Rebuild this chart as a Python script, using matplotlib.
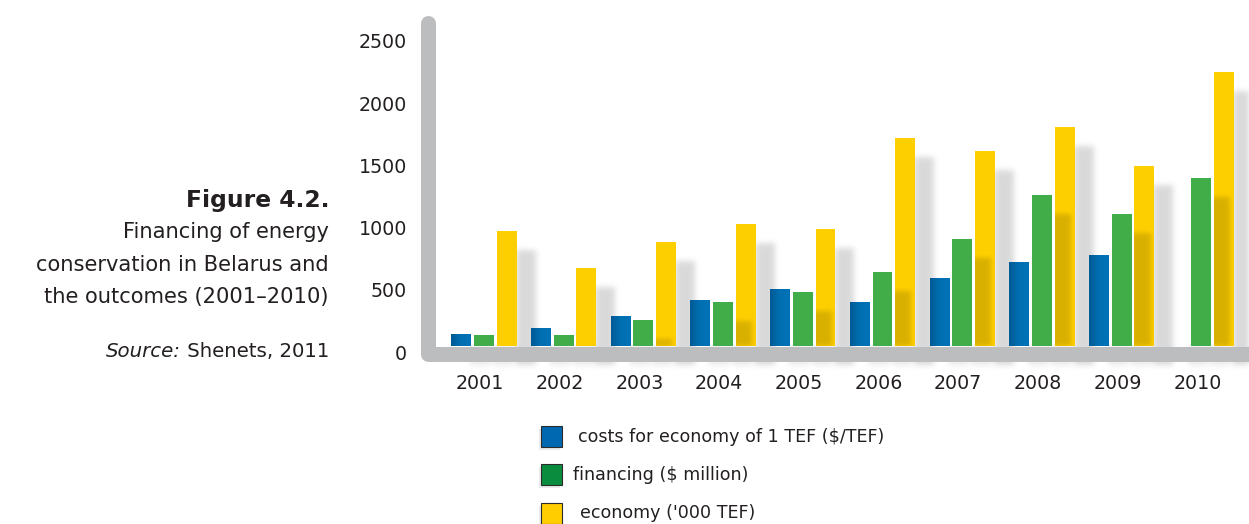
import numpy as np
import matplotlib
matplotlib.use("Agg")
import matplotlib.pyplot as plt
from matplotlib.lines import Line2D
from matplotlib.patches import Rectangle
from matplotlib.colors import LinearSegmentedColormap
import matplotlib.transforms as mtransforms

# ---------------- data ----------------
years = ["2001", "2002", "2003", "2004", "2005", "2006", "2007", "2008", "2009", "2010"]
costs = [96, 145, 241, 370, 458, 354, 547, 675, 731, 0]          # $/TEF
financing = [88, 88, 209, 354, 434, 595, 860, 1214, 1061, 1350]  # $ million
economy = [924, 627, 836, 981, 941, 1672, 1567, 1760, 1447, 2203]  # '000 TEF
yticks = [0, 500, 1000, 1500, 2000, 2500]
legend_labels = ["costs for economy of 1 TEF ($/TEF)", "financing ($ million)", "economy ('000 TEF)"]
title_text = "Figure 4.2."
desc_lines = ["Financing of energy", "conservation in Belarus and", "the outcomes (2001\u20132010)"]

# ---------------- styling ----------------
W, H, DPI = 1249, 524, 100
BLUE, GREEN, YELLOW = "#0070b2", "#41ad49", "#fecf00"
LEG_COLORS = ["#0067b1", "#0a8c3f", "#ffcd00"]
AXIS_GRAY = "#bcbdbf"
TXT = "#231f20"

fig = plt.figure(figsize=(W / DPI, H / DPI), dpi=DPI)
fig.patch.set_facecolor("white")

def fx(x):
    return x / W

def fy(y):
    return 1 - y / H

# axes placement (pixel geometry of reference)
ax_left, ax_right, ax_top, ax_bot = 420, 1249, 10, 370
base_px = 346.0
px_per_unit = 0.1244
group_px = 79.7
green0_px = 484.0

ax = fig.add_axes([fx(ax_left), fy(ax_bot), (ax_right - ax_left) / W, (ax_bot - ax_top) / H])
ax.set_facecolor("white")
xlim = ((ax_left - green0_px) / group_px, (ax_right - green0_px) / group_px)
ylim = (-(ax_bot - base_px) / px_per_unit, (base_px - ax_top) / px_per_unit)
ax.set_xlim(*xlim)
ax.set_ylim(*ylim)
for s in ax.spines.values():
    s.set_visible(False)

x = np.arange(len(years))
off, bw = 0.285, 0.25
b_blue = ax.bar(x - off, costs, bw, color=BLUE, zorder=3, linewidth=0)
b_green = ax.bar(x, financing, bw, color=GREEN, zorder=3, linewidth=0)
b_yel = ax.bar(x + off, economy, bw, color=YELLOW, zorder=3, linewidth=0)

# gradient on blue bars (darker left edge)
grad_cmap = LinearSegmentedColormap.from_list("bg", ["#005a95", "#0070b2", "#0072b5"])
grad = np.linspace(0, 1, 40)[None, :]
for p in b_blue.patches:
    if p.get_height() <= 0:
        continue
    x0, y0 = p.get_x(), p.get_y()
    im = ax.imshow(grad, cmap=grad_cmap, extent=(x0, x0 + p.get_width(), y0, y0 + p.get_height()),
                   aspect="auto", zorder=3.1, interpolation="bilinear")
    im.set_clip_path(p)
ax.set_xlim(*xlim)
ax.set_ylim(*ylim)

# ---------------- soft shadows (raster, derived from bars) ----------------
npx_w, npx_h = ax_right - ax_left, ax_bot - ax_top
xs = xlim[0] + (np.arange(npx_w) + 0.5) / npx_w * (xlim[1] - xlim[0])
ys = ylim[1] - (np.arange(npx_h) + 0.5) / npx_h * (ylim[1] - ylim[0])
XX, YY = np.meshgrid(xs, ys)
dx = 19 / group_px
dy = 19 / px_per_unit

def rect_mask(x0, x1, y0, y1):
    return ((XX >= x0) & (XX <= x1) & (YY >= y0) & (YY <= y1)).astype(float)

def blur(a, sigma):
    r = int(3 * sigma)
    k = np.exp(-0.5 * (np.arange(-r, r + 1) / sigma) ** 2)
    k /= k.sum()
    a = np.apply_along_axis(lambda v: np.convolve(v, k, mode="same"), 1, a)
    a = np.apply_along_axis(lambda v: np.convolve(v, k, mode="same"), 0, a)
    return a

maskA = np.zeros_like(XX)
for p in b_yel.patches:
    x0 = p.get_x()
    maskA = np.maximum(maskA, rect_mask(x0 + dx, x0 + bw + dx, -dy, p.get_height() - dy))
for cont in (b_blue, b_green):
    for p in cont.patches:
        x0 = p.get_x()
        maskA = np.maximum(maskA, 0.6 * rect_mask(x0 + dx, x0 + bw + dx, -dy, 0))
maskA = blur(maskA, 3.0)
shadowA = np.zeros(XX.shape + (4,))
shadowA[..., 3] = 0.15 * maskA
ax.imshow(shadowA, extent=(xlim[0], xlim[1], ylim[0], ylim[1]), aspect="auto", zorder=2,
          interpolation="bilinear")

maskB = np.zeros_like(XX)
for p in b_green.patches:
    x0 = p.get_x()
    maskB = np.maximum(maskB, rect_mask(x0 + dx, x0 + bw + dx, 0, p.get_height() - dy))
maskB = blur(maskB, 2.5)
yel_mask = np.zeros_like(XX)
for p in b_yel.patches:
    x0 = p.get_x()
    yel_mask = np.maximum(yel_mask, rect_mask(x0, x0 + bw, 0, p.get_height()))
shadowB = np.zeros(XX.shape + (4,))
shadowB[..., 3] = 0.15 * maskB * yel_mask
ax.imshow(shadowB, extent=(xlim[0], xlim[1], ylim[0], ylim[1]), aspect="auto", zorder=4,
          interpolation="bilinear")
ax.set_xlim(*xlim)
ax.set_ylim(*ylim)

# ---------------- ticks ----------------
ax.set_yticks(yticks)
ax.set_yticklabels([str(v) for v in yticks])
ax.set_xticks(x - 0.05)
ax.set_xticklabels(years)
ax.tick_params(axis="both", length=0, labelsize=13.7, labelcolor=TXT)
ax.tick_params(axis="y", pad=9.4)
ax.tick_params(axis="x", pad=3.0)
shift = mtransforms.ScaledTranslation(0, -6 / DPI, fig.dpi_scale_trans)
for lab in ax.get_yticklabels():
    lab.set_transform(lab.get_transform() + shift)

# ---------------- L-shaped axis line ----------------
lw_pt = 15 * 72 / DPI
axis_line = Line2D([fx(427.5), fx(427.5), fx(1300)], [fy(22.5), fy(353.5), fy(353.5)],
                   transform=fig.transFigure, color=AXIS_GRAY, linewidth=lw_pt,
                   solid_capstyle="round", solid_joinstyle="round", zorder=5)
fig.add_artist(axis_line)

# ---------------- left caption ----------------
fig.text(fx(329), fy(207), title_text, ha="right", va="baseline", fontsize=16.8,
         fontweight="bold", color=TXT, family="DejaVu Sans")
for i, line in enumerate(desc_lines):
    fig.text(fx(329), fy(238 + i * 32.6), line, ha="right", va="baseline", fontsize=15.1,
             color=TXT, family="DejaVu Sans")
t_src = fig.text(fx(329), fy(357), " Shenets, 2011", ha="right", va="baseline", fontsize=14.2,
                 color=TXT, family="DejaVu Sans")
fig.canvas.draw()
bb = t_src.get_window_extent()
fig.text(bb.x0 / W, fy(357), "Source:", ha="right", va="baseline", fontsize=14.2,
         color=TXT, family="DejaVu Sans", style="italic")

# ---------------- legend (manual) ----------------
leg_rows_top = [426, 464, 503]
leg_text_x = [578, 573, 580]
leg_base = [442, 480, 518]
for i, lab in enumerate(legend_labels):
    top = leg_rows_top[i]
    sh = Rectangle((fx(539), fy(top + 24)), 21 / W, 21 / H, transform=fig.transFigure,
                   facecolor="black", alpha=0.08, edgecolor="none", zorder=1)
    fig.add_artist(sh)
    r = Rectangle((fx(541), fy(top + 21)), 21 / W, 21 / H, transform=fig.transFigure,
                  facecolor=LEG_COLORS[i], edgecolor="#2b2b2b", linewidth=0.8, zorder=2)
    fig.add_artist(r)
    fig.text(fx(leg_text_x[i]), fy(leg_base[i]), lab, ha="left", va="baseline",
             fontsize=12.6, color=TXT, family="DejaVu Sans")

fig.savefig("out.png", dpi=DPI, facecolor="white")
